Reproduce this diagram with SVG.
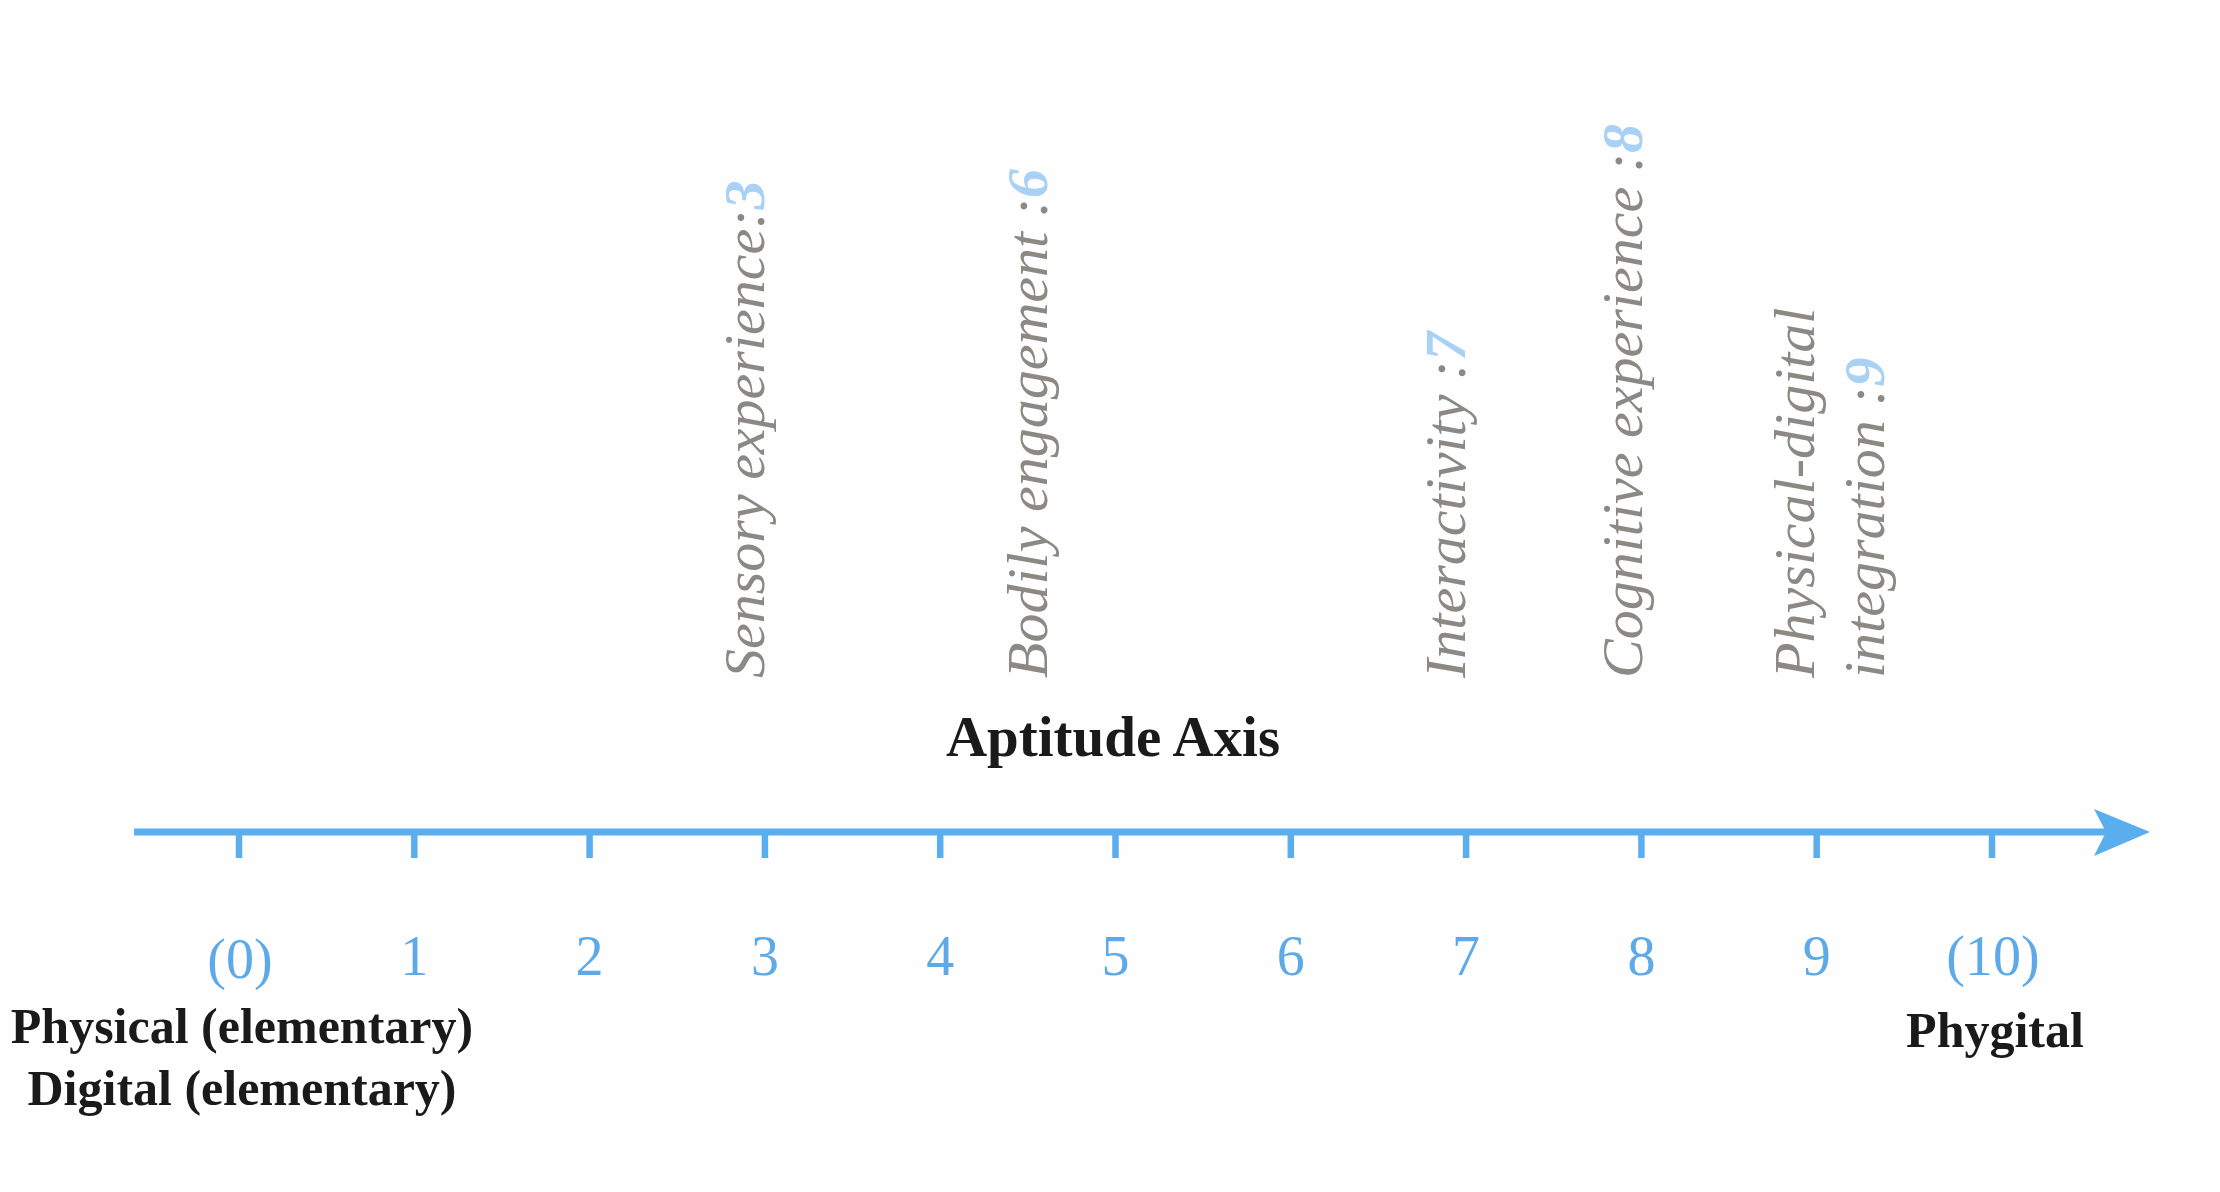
<svg xmlns="http://www.w3.org/2000/svg" width="2220" height="1192" viewBox="0 0 2220 1192">
  <style>
    .lab { font-family: "Liberation Serif", "Times New Roman", serif; font-style: italic; font-size: 58px; fill: #8C8985; }
    .lab .n { fill: #A8D1F5; font-weight: bold; }
    .num { font-family: "Liberation Serif", "Times New Roman", serif; font-size: 56px; fill: #5EAAE8; text-anchor: middle; }
    .bold { font-family: "Liberation Serif", "Times New Roman", serif; font-weight: bold; fill: #1A1A1A; text-anchor: middle; }
    .axis { stroke: #5AAEEE; stroke-width: 7; fill: none; }
    .tick { stroke: #5AAEEE; stroke-width: 6.5; }
  </style>
  <rect width="2220" height="1192" fill="#FEFEFE"/>

  <g id="connectors">
    <line class="axis" x1="134" y1="832" x2="2108" y2="832"/>
    <polygon points="2150,832 2094,809 2106,832 2094,856" fill="#5AAEEE"/>
    <g id="ticks">
      <line class="tick" x1="239" y1="832" x2="239" y2="858"/>
      <line class="tick" x1="414.3" y1="832" x2="414.3" y2="858"/>
      <line class="tick" x1="589.6" y1="832" x2="589.6" y2="858"/>
      <line class="tick" x1="764.9" y1="832" x2="764.9" y2="858"/>
      <line class="tick" x1="940.2" y1="832" x2="940.2" y2="858"/>
      <line class="tick" x1="1115.5" y1="832" x2="1115.5" y2="858"/>
      <line class="tick" x1="1290.8" y1="832" x2="1290.8" y2="858"/>
      <line class="tick" x1="1466.1" y1="832" x2="1466.1" y2="858"/>
      <line class="tick" x1="1641.4" y1="832" x2="1641.4" y2="858"/>
      <line class="tick" x1="1816.7" y1="832" x2="1816.7" y2="858"/>
      <line class="tick" x1="1992" y1="832" x2="1992" y2="858"/>
    </g>
  </g>

  <g id="axis-title">
    <text class="bold" x="1113" y="756" font-size="57">Aptitude Axis</text>
  </g>

  <g id="scale-numbers">
    <text class="num" x="240" y="978">(0)</text>
    <text class="num" x="414.3" y="975">1</text>
    <text class="num" x="589.6" y="975">2</text>
    <text class="num" x="764.9" y="975">3</text>
    <text class="num" x="940.2" y="975">4</text>
    <text class="num" x="1115.5" y="975">5</text>
    <text class="num" x="1290.8" y="975">6</text>
    <text class="num" x="1466.1" y="975">7</text>
    <text class="num" x="1641.4" y="975">8</text>
    <text class="num" x="1816.7" y="975">9</text>
    <text class="num" x="1993" y="975">(10)</text>
  </g>

  <g id="start-label">
    <text class="bold" x="242" y="1043" font-size="50">Physical (elementary)</text>
    <text class="bold" x="242" y="1105" font-size="50">Digital (elementary)</text>
  </g>

  <g id="end-label">
    <text class="bold" x="1995" y="1047" font-size="50">Phygital</text>
  </g>

  <g id="sensory">
    <text class="lab" transform="translate(764,678) rotate(-90)">Sensory experience:<tspan class="n">3</tspan></text>
  </g>
  <g id="bodily">
    <text class="lab" transform="translate(1047,678) rotate(-90)">Bodily engagement :<tspan class="n">6</tspan></text>
  </g>
  <g id="interactivity">
    <text class="lab" transform="translate(1465,678) rotate(-90)">Interactivity :<tspan class="n">7</tspan></text>
  </g>
  <g id="cognitive">
    <text class="lab" transform="translate(1642,678) rotate(-90)">Cognitive experience :<tspan class="n">8</tspan></text>
  </g>
  <g id="integration">
    <text class="lab" transform="translate(1814,678) rotate(-90)">Physical-digital</text>
    <text class="lab" transform="translate(1884,678) rotate(-90)">integration :<tspan class="n">9</tspan></text>
  </g>
</svg>
